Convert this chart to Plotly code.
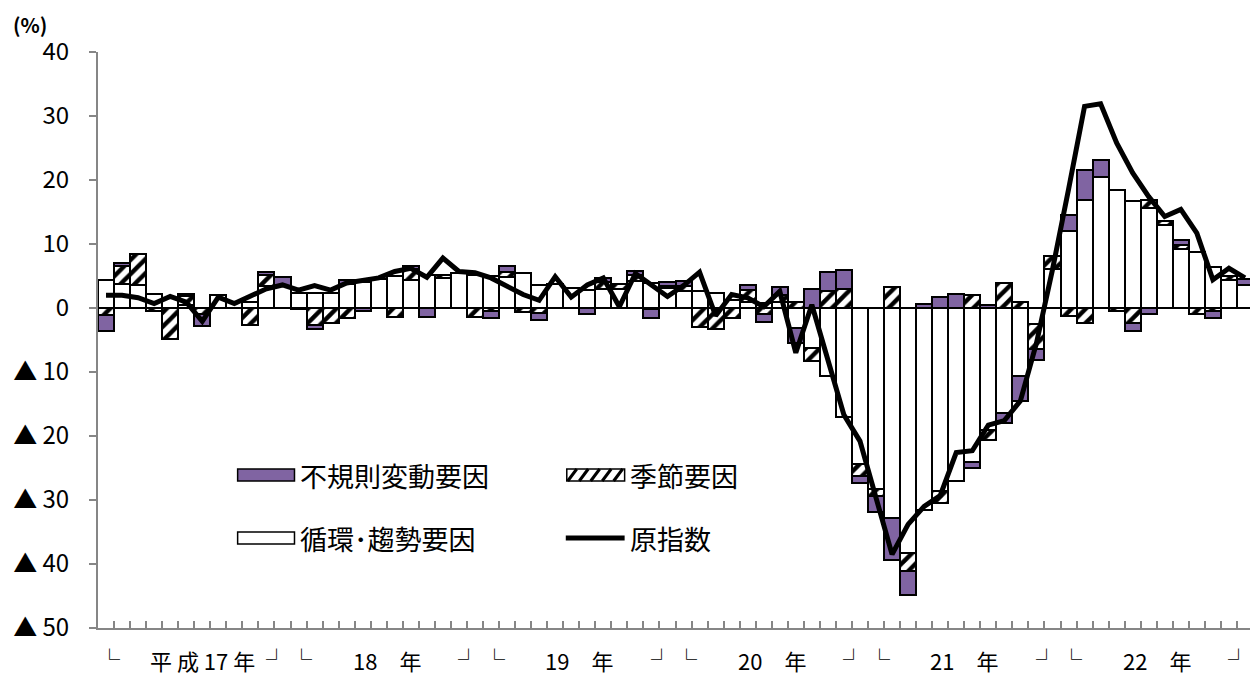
import plotly.graph_objects as go

# ---------------- data ----------------
years = ["17", "18", "19", "20", "21", "22"]
year_labels = ["平 成 17 年", "18　年", "19　年", "20　年", "21　年", "22　年"]
months = [f"H{y}.{m}" for y in years for m in range(1, 13)]

# 循環・趨勢要因 (cyclical / trend)
trend = [
    4.4, 3.8, 3.6, 2.2, 1.5, 0.5, 0.0, 2.1, 1.0, 1.0, 3.4, 3.4,
    2.3, 2.3, 2.3, 3.8, 4.0, 4.5, 5.0, 4.4, 5.2, 4.7, 5.4, 5.2,
    5.0, 4.8, 5.4, 3.6, 3.7, 3.2, 2.8, 2.9, 2.9, 4.2, 3.9, 3.1,
    2.6, 2.6, 2.3, 1.3, 1.0, 0.8, 1.0, -3.1, -6.25, -10.7, -17.1, -24.4,
    -28.3, -32.8, -38.3, -31.5, -28.6, -27.1, -24.0, -19.0, -16.4, -10.7, -2.5, 6.1,
    12.0, 16.9, 20.5, 18.5, 16.7, 15.6, 12.9, 9.2, 8.7, 6.4, 4.4, 3.6,
]
# 季節要因 (seasonal)
seasonal = [
    -1.1, 2.8, 4.9, -0.4, -4.9, 1.3, -1.0, 0.0, 0.0, -2.7, 1.8, 0.0,
    0.0, -2.6, -2.3, -1.6, 0.0, 0.0, -1.4, 1.7, 0.0, 0.5, 0.0, -1.4,
    -0.5, 0.9, -0.7, -0.8, 0.0, 0.0, 0.0, 1.1, 0.8, 0.9, -0.2, 0.4,
    0.9, -3.0, -3.3, -1.6, 1.8, -1.0, 1.1, 1.0, -2.1, 2.6, 2.9, -1.9,
    -1.0, 3.3, -2.8, 0.0, -1.9, 0.0, 2.0, -1.6, 3.9, 1.0, -3.9, 2.1,
    -1.2, -2.3, 0.0, -0.5, -2.3, 1.3, 0.7, 0.7, -1.0, -0.5, 0.6, 0.0,
]
# 不規則変動要因 (irregular)
irregular = [
    -2.5, 0.4, 0.0, 0.0, 0.0, 0.4, -1.8, 0.0, 0.0, 0.0, 0.5, 1.5,
    -0.2, -0.7, 0.0, 0.5, -0.5, 0.0, 0.0, 0.5, -1.4, 0.0, 0.0, 0.0,
    -1.1, 0.9, 0.0, -1.0, 0.0, 0.0, -1.0, 0.7, 0.0, 0.7, -1.4, 0.6,
    0.7, 0.0, 0.0, 0.0, 0.8, -1.2, 1.2, -2.4, 3.0, 3.1, 3.1, -1.0,
    -2.6, -6.5, -3.7, 0.6, 1.7, 2.2, -1.0, 0.5, -1.6, -3.9, -1.8, 0.0,
    2.6, 4.6, 2.6, 0.0, -1.3, -0.9, 0.0, 0.7, 0.0, -1.0, 0.0, 0.9,
]
# 原指数 (original index, y/y %)
original = [
    2.0, 2.0, 1.6, 0.7, 1.8, 0.9, -2.1, 1.7, 0.7, 1.8, 3.0, 3.6,
    2.8, 3.5, 2.8, 3.9, 4.3, 4.7, 5.7, 6.2, 4.8, 7.8, 5.7, 5.5,
    4.7, 3.4, 2.1, 1.2, 4.9, 1.7, 3.6, 4.7, 0.2, 5.4, 3.5, 1.8,
    3.5, 5.6, -1.2, 2.1, 1.6, 0.2, 2.6, -7.0, 0.5, -7.8, -16.7, -20.8,
    -30.0, -38.5, -33.8, -31.0, -29.3, -22.6, -22.3, -18.3, -17.6, -14.5, -5.5, 6.0,
    18.5, 31.5, 31.9, 25.8, 21.1, 17.4, 14.3, 15.4, 11.7, 4.4, 6.2, 4.7,
]

y_tickvals = [40, 30, 20, 10, 0, -10, -20, -30, -40, -50]
y_ticktext = ["40", "30", "20", "10", "0", "▲ 10", "▲ 20", "▲ 30", "▲ 40", "▲ 50"]

legend_names = ["不規則変動要因", "季節要因", "循環･趨勢要因", "原指数"]
unit_label = "(%)"

# ---------------- styling ----------------
PURPLE = "#8064A2"
GRAY = "#868686"
FONT = "Noto Sans CJK JP"
OFF = 8                       # default page margin of the html body
W, H = 1250, 669
ML, MR, MT, MB = 87, 5, 44, 49
PW, PH = W - ML - MR, H - MT - MB


def px(x):
    """page pixel x -> paper coordinate"""
    return (x - OFF - ML) / PW


def py(y):
    """page pixel y -> paper coordinate"""
    return (H - MB - (y - OFF)) / PH


outline = dict(color="black", width=2)

fig = go.Figure()
fig.add_trace(go.Bar(
    x=months, y=trend, name=legend_names[2],
    marker=dict(color="white", line=outline), showlegend=False,
))
fig.add_trace(go.Bar(
    x=months, y=seasonal, name=legend_names[1],
    marker=dict(color="white", line=outline,
                pattern=dict(shape="/", fillmode="replace", fgcolor="black",
                             bgcolor="white", size=10, solidity=0.45)),
    showlegend=False,
))
fig.add_trace(go.Bar(
    x=months, y=irregular, name=legend_names[0],
    marker=dict(color=PURPLE, line=outline), showlegend=False,
))
fig.add_trace(go.Scatter(
    x=months, y=original, name=legend_names[3], mode="lines",
    line=dict(color="black", width=5), showlegend=False,
))

annotations = []
shapes = []

# year labels under the axis
corner_font = dict(family=FONT, size=21, color="black")
for k, lab in enumerate(year_labels):
    c = 12 * k + 5.5 + (0.5 if k == 0 else 0)
    annotations.append(dict(x=c, y=py(660), xref="x", yref="paper", text=lab,
                            showarrow=False, font=dict(family=FONT, size=22, color="black"),
                            xanchor="center", yanchor="middle"))
    annotations.append(dict(x=12 * k + 0.2, y=py(658), xref="x", yref="paper", text="<b>└</b>",
                            showarrow=False, font=corner_font,
                            xanchor="center", yanchor="middle"))
    annotations.append(dict(x=12 * k + 10.6, y=py(658), xref="x", yref="paper", text="<b>┘</b>",
                            showarrow=False, font=corner_font,
                            xanchor="center", yanchor="middle"))

# unit label
annotations.append(dict(x=px(9), y=py(8.5), xref="paper", yref="paper",
                        text=f"<b>{unit_label}</b>",
                        showarrow=False, font=dict(family=FONT, size=20, color="black"),
                        xanchor="left", yanchor="top", borderpad=0))

# custom legend
leg_font = dict(family=FONT, size=27, color="black")
rows = [475, 538]
sw_x = [(235, 292), (565, 623)]
# irregular swatch
shapes.append(dict(type="rect", xref="paper", yref="paper",
                   x0=px(sw_x[0][0]), x1=px(sw_x[0][1]), y0=py(rows[0] + 6), y1=py(rows[0] - 6),
                   fillcolor=PURPLE, line=dict(color="black", width=1.5)))
# seasonal swatch
shapes.append(dict(type="rect", xref="paper", yref="paper",
                   x0=px(sw_x[1][0]), x1=px(sw_x[1][1]), y0=py(rows[0] + 6), y1=py(rows[0] - 6),
                   fillcolor="white", line=dict(color="black", width=1.5)))
for j in range(5):
    xs = sw_x[1][0] + 1 + j * 11.5
    shapes.append(dict(type="line", xref="paper", yref="paper",
                       x0=px(xs), y0=py(rows[0] + 6), x1=px(xs + 9), y1=py(rows[0] - 6),
                       line=dict(color="black", width=3)))
# trend swatch
shapes.append(dict(type="rect", xref="paper", yref="paper",
                   x0=px(sw_x[0][0]), x1=px(sw_x[0][1]), y0=py(rows[1] + 6), y1=py(rows[1] - 6),
                   fillcolor="white", line=dict(color="black", width=1.5)))
# line swatch
shapes.append(dict(type="line", xref="paper", yref="paper",
                   x0=px(sw_x[1][0] - 1), x1=px(sw_x[1][1]), y0=py(rows[1]), y1=py(rows[1]),
                   line=dict(color="black", width=5)))

leg_pos = [(sw_x[0][1] + 4, rows[0]), (sw_x[1][1] + 3, rows[0]),
           (sw_x[0][1] + 4, rows[1]), (sw_x[1][1] + 3, rows[1])]
for name, (lx, ly) in zip(legend_names, leg_pos):
    annotations.append(dict(x=px(lx), y=py(ly), xref="paper", yref="paper", text=name,
                            showarrow=False, font=leg_font, xanchor="left", yanchor="middle"))

fig.update_layout(
    width=W, height=H, autosize=False,
    margin=dict(l=ML, r=MR, t=MT, b=MB, pad=0),
    barmode="relative", bargap=0,
    plot_bgcolor="white", paper_bgcolor="white",
    font=dict(family=FONT, color="black"),
    showlegend=False,
    annotations=annotations, shapes=shapes,
    xaxis=dict(type="category", categoryorder="array", categoryarray=months,
               range=[-0.5, len(months) - 0.5], tickson="boundaries",
               ticks="inside", ticklen=7, tickwidth=1.5, tickcolor=GRAY,
               showticklabels=False, showline=True, linecolor=GRAY, linewidth=2,
               showgrid=False, zeroline=False),
    yaxis=dict(range=[-50, 40], tickvals=y_tickvals, ticktext=y_ticktext,
               ticks="outside", ticklen=7, tickwidth=1.5, tickcolor=GRAY,
               tickfont=dict(family=FONT, size=24, color="black"),
               ticklabelstandoff=15,
               showline=True, linecolor=GRAY, linewidth=2, showgrid=False,
               zeroline=True, zerolinecolor="black", zerolinewidth=2),
)

fig.write_html("out.html")
